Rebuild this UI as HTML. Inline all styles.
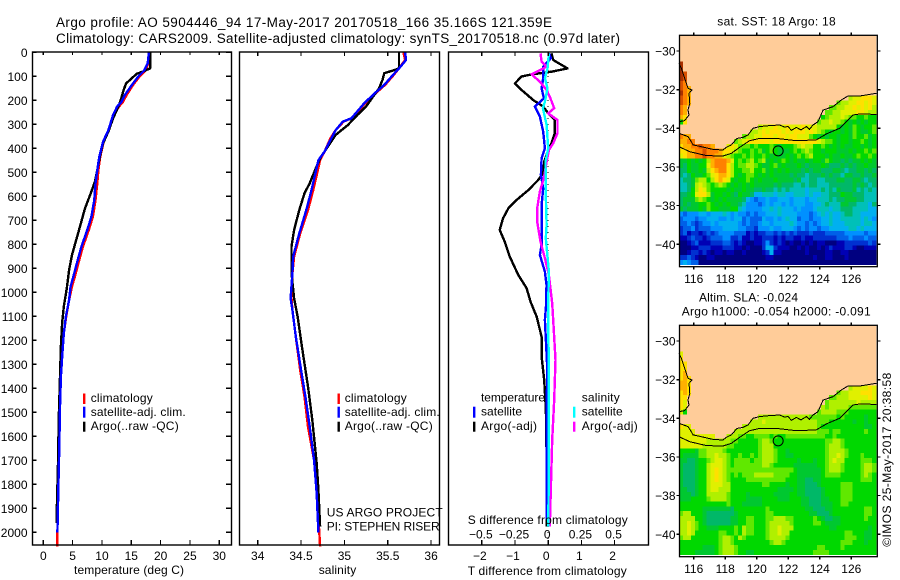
<!DOCTYPE html>
<html>
<head>
<meta charset="utf-8">
<title>Argo profile</title>
<style>
html,body{margin:0;padding:0;background:#fff;}
svg{display:block;}
text{font-family:"Liberation Sans",Arial,sans-serif;fill:#000;}
</style>
</head>
<body>
<svg id="chart" xmlns="http://www.w3.org/2000/svg" width="900" height="580" viewBox="0 0 900 580">
<rect x="0" y="0" width="900" height="580" fill="#fff"/>
<text x="56" y="27" font-size="13.5" textLength="496">Argo profile: AO 5904446_94 17-May-2017 20170518_166 35.166S 121.359E</text>
<text x="56" y="43" font-size="13.5" textLength="564">Climatology: CARS2009. Satellite-adjusted climatology: synTS_20170518.nc (0.97d later)</text>
<g id="maps"></g>
<g id="panels"></g>

<g id="labels" font-size="12">
<text x="74" y="574" textLength="110">temperature (deg C)</text>
<text x="318.7" y="574" textLength="37.5">salinity</text>
<text x="467.7" y="524" textLength="160">S difference from climatology</text>
<text x="467.7" y="575" textLength="159">T difference from climatology</text>

<rect x="83" y="393.5" width="2.4" height="10.5" fill="#f00"/>
<rect x="83" y="406.7" width="2.4" height="11" fill="#00f"/>
<rect x="83" y="421.7" width="2.4" height="10" fill="#000"/>
<text x="90.7" y="402" textLength="62">climatology</text>
<text x="90.7" y="416" textLength="95">satellite-adj. clim.</text>
<text x="90.7" y="430" textLength="88">Argo(..raw -QC)</text>

<rect x="337.5" y="393.5" width="2.4" height="10.5" fill="#f00"/>
<rect x="337.5" y="406.7" width="2.4" height="11" fill="#00f"/>
<rect x="337.5" y="421.7" width="2.4" height="10" fill="#000"/>
<text x="344.7" y="402" textLength="62">climatology</text>
<text x="344.7" y="416" textLength="95">satellite-adj. clim.</text>
<text x="344.7" y="430" textLength="88">Argo(..raw -QC)</text>
<text x="326.7" y="516.7" textLength="116">US ARGO PROJECT</text>
<text x="326.7" y="530.7" textLength="113">PI: STEPHEN RISER</text>

<text x="481" y="401.7" textLength="64">temperature</text>
<rect x="473" y="406.7" width="2.4" height="11" fill="#00f"/>
<rect x="473" y="421.7" width="2.4" height="10" fill="#000"/>
<text x="481" y="415.7" textLength="41">satellite</text>
<text x="481" y="430" textLength="56">Argo(-adj)</text>
<text x="581.7" y="401.7" textLength="38">salinity</text>
<rect x="573" y="406.7" width="2.4" height="11" fill="#0ff"/>
<rect x="573" y="421.7" width="2.4" height="10" fill="#f0f"/>
<text x="581.7" y="415.7" textLength="41">satellite</text>
<text x="581.7" y="430" textLength="56">Argo(-adj)</text>

<text x="717.3" y="25.7" textLength="118.4">sat. SST: 18 Argo: 18</text>
<text x="699" y="301.7" textLength="99">Altim. SLA: -0.024</text>
<text x="681.7" y="315.7" textLength="189">Argo h1000: -0.054 h2000: -0.091</text>
<text transform="translate(891,546.7) rotate(-90)" x="0" y="0" textLength="174">©IMOS 25-May-2017 20:38:58</text>
</g>
</svg>
<script>
// ---------- profile panel tick data ----------
const depthTicks = [0,100,200,300,400,500,600,700,800,900,1000,1100,1200,1300,1400,1500,1600,1700,1800,1900,2000];
const tempTicks = [0,5,10,15,20,25,30];
const salTicks = [34,34.5,35,35.5,36];
const salTickLabels = ['34','34.5','35','35.5','36'];
const diffTicks = [-2,-1,0,1,2];
const diffTickLabels = ['\u22122','\u22121','0','1','2'];
const sdiffTicks = [-0.5,-0.25,0,0.25,0.5];
const sdiffTickLabels = ['\u22120.5','\u22120.25','0','0.25','0.5'];

// ---------- temperature profile (deg C vs depth) ----------
const tempClimDepth = [0,46,76,101,136,178,206,226,261,324,372,435,490,546,615,685,740,810,872,928,976,1032,1101,1171,1254,1351,1476,1643,1824,2000,2060];
const tempClimValue = [18.0,17.9,17.4,16.4,15.3,14.2,13.6,12.9,12.0,11.1,10.3,9.7,9.4,9.2,8.9,8.45,7.75,6.75,6.05,5.45,4.9,4.4,3.9,3.5,3.25,3.0,2.85,2.73,2.56,2.4,2.4];
const tempArgoDepth = [0,67,80,90,108,130,164,199,226,275,330,379,428,490,539,587,650,726,782,844,907,983,1060,1129,1226,1351,1518,1712,1907,1962];
const tempArgoValue = [18.2,18.2,17.0,15.9,15.1,14.1,13.6,13.2,12.8,11.9,11.1,10.2,9.7,9.2,8.8,8.1,7.1,6.25,5.6,4.9,4.4,4.0,3.5,3.2,3.0,2.85,2.65,2.5,2.3,2.3];
const tempSatDepth = [0,46,76,101,136,178,206,226,261,324,372,435,490,546,615,685,740,810,872,928,976,1032,1101,1171,1254,1351,1476,1643,1824,2000];
const tempSatValue = [18.0,17.8,17.2,16.2,15.1,13.9,13.35,12.6,11.9,11.1,10.2,9.55,9.2,8.9,8.7,8.2,7.5,6.5,5.8,5.2,4.66,4.4,3.86,3.5,3.25,3.0,2.85,2.73,2.56,2.4];

// ---------- salinity profile ----------
const salClimDepth = [0,32,67,94,136,171,212,254,275,289,324,358,414,449,497,574,657,754,851,921,1025,1073,1185,1324,1435,1560,1700,1838,2000,2060];
const salClimValue = [35.68,35.70,35.63,35.57,35.47,35.36,35.24,35.14,35.08,34.99,34.9,34.84,34.77,34.72,34.69,34.64,34.58,34.49,34.42,34.40,34.39,34.40,34.44,34.49,34.54,34.58,34.65,34.68,34.71,34.72];
const salArgoDepth = [0,67,76,87,115,150,185,226,261,303,344,393,435,483,546,587,657,740,810,921,1025,1101,1226,1393,1532,1712,1824,1976];
const salArgoValue = [35.63,35.63,35.56,35.46,35.44,35.40,35.33,35.25,35.15,35.04,34.9,34.81,34.73,34.67,34.6,34.54,34.48,34.42,34.39,34.39,34.42,34.46,34.51,34.58,34.63,34.68,34.70,34.72];
const salSatDepth = [0,32,67,94,136,171,212,254,275,289,324,358,414,449,497,574,657,754,851,921,1025,1073,1185,1324,1435,1560,1700,1838,2000];
const salSatValue = [35.7,35.71,35.63,35.56,35.46,35.35,35.23,35.13,35.08,34.98,34.9,34.85,34.77,34.70,34.67,34.62,34.56,34.48,34.41,34.40,34.38,34.40,34.44,34.5,34.55,34.6,34.65,34.68,34.70];

// ---------- differences from climatology ----------
const dtArgoDepth = [4,32,67,81,92,101,129,157,199,226,254,282,337,379,407,456,504,532,574,615,650,692,740,789,851,928,983,1040,1101,1185,1268,1365,1490,1657,1976];
const dtArgoValue = [0.10,0.15,0.58,0.10,-0.50,-0.80,-1.0,-0.80,-0.45,-0.15,0,0.2,0.2,0.1,0,-0.12,-0.15,-0.30,-0.6,-0.95,-1.2,-1.36,-1.46,-1.31,-1.16,-0.90,-0.65,-0.53,-0.35,-0.2,-0.2,-0.12,-0.07,-0.05,-0.05];
const dtSatDepth = [4,25,60,108,150,192,226,268,331,400,442,511,567,636,719,803,844,914,969,1046,1115,1310,1587,1949];
const dtSatValue = [0.02,0.08,-0.15,-0.15,-0.2,-0.13,-0.40,-0.25,-0.15,-0.1,-0.2,-0.22,-0.15,-0.2,-0.2,-0.2,-0.25,-0.1,-0.05,-0.06,-0.1,-0.03,-0.05,-0.05];
const dsArgoDepth = [4,39,60,92,122,157,185,233,254,282,337,379,407,456,525,581,650,706,789,858,928,1046,1115,1282,1448,1615,1810,1976];
const dsArgoValue = [-0.058,-0.05,-0.012,-0.125,-0.063,-0.012,0.012,0.045,0,0.07,0.07,0.038,0.005,-0.012,-0.033,-0.063,-0.083,-0.083,-0.058,-0.025,0.005,0.03,0.038,0.055,0.045,0.03,0.02,0.012];
const dsSatDepth = [4,67,108,150,206,233,303,400,456,594,719,775,914,1046,1171,1282,1476,1726,1976];
const dsSatValue = [0.005,-0.005,-0.025,-0.005,-0.025,-0.04,-0.012,0,-0.02,-0.018,-0.012,-0.018,0.005,0,0,0.005,0.005,0.005,0];

// ---------- map data ----------
const lonTicks = [116,118,120,122,124,126];
const latTicks = [30,32,34,36,38,40];
const mapFirstRow = 5;
// each character is one 0.25 deg grid cell coded into colourLevels; '.' is land
const sstRows = [
"h","h","hg","hg","gf","gfe","hfe",
"gfe....... .......... .......... .......... ...bccdddc",
"gfe....... .......... .......... .......... abbccddcdc",
"fe........ .......... .......... ........aa bbccdcdcdb",
"fe........ .......... .......... .......aab bccccddcbb",
"ed........ .......... .......... ......9abb bcbaa99a99",
"9d........ .......... .......... .....abbcb ba98989899",
".......... .......... bcccdccdcc cdcccbbbbb 9898a9899a",
".......... ........bb cdcdddcdcd ddcdcba989 9898a9889a",
"fee....... ......abbc cdddcddcdd ccca989899 8998a99a89",
"eeff...... ....abcddd dddcdddddd dddddcbaa9 899899a989",
"deeffgffe. ..cdcaaa9a 999a98999a bcbb99a989 8988998989",
"ddeeffgfff eddcba99a9 a89a98889a 9aba998999 8889899a9a",
"cdeeffgffe ecba99a9a9 9a98988989 a9ab999898 89889a99a9",
"8898989bef ffec9a9ab9 ab8989a989 8898998a98 8787889898",
"8798899cef ffdb9aabba 9889a89888 9878889877 7878788988",
"7798898bde ffdb99aab9 9a89898988 8787887778 8767788787",
"7679889acd eedb989aa9 8989888878 7767778787 7688778778",
"6778abb9bd edc9899a98 9888988887 8667766777 8877887677",
"6678bcba9a ba98989898 8888787776 6767766677 7777878767",
"6679bdca99 9989889887 7877676766 6656667676 8777867676",
"7789cddb89 9898798875 5666566556 6656556677 7988777666",
"7888aba989 8988887543 4454455545 5545566676 7788877666",
"7878899a98 9898876444 3454554545 5544556766 6887766657",
"8788898a99 8889965444 4556565554 5444566656 6777666655",
"4344455455 5654544343 4455565555 4443456565 5677665555",
"3444344555 4454553433 3544545655 3443445565 5666665654",
"3343234454 5555543433 4554555565 4434345565 5566665665",
"2334233344 4555544332 4445445554 3434434455 5556656555",
"2312212323 4444333121 2233232323 2223222333 3344444344",
"1123221233 3442231121 1222121221 1211222222 3334333433",
"0012311122 2332121001 1242121010 0101011000 1122222232",
"0001122211 1222110100 0255211100 1010010121 1122100111",
"0012212101 1011001000 0125110000 0010000110 0110000000",
"2232100110 0000000000 0011000000 0000100110 0010000000",
"4543300000 0000000000 0000000000 0000000000 0000000000"
];
const slaRows = [
"c","d","dd","dd","de","ded","eed",
"eed....... .......... .......... .......... ...bccccdc",
"ded....... .......... .......... .......... abbcccdddc",
"dd........ .......... .......... ........aa bbbcccccdc",
"dc........ .......... .......... .......abb bbbbbcbbbb",
"dc........ .......... .......... ......babb bbbaaaaaaa",
"c9........ .......... .......... .....abbbb aaa9999999",
".......... .......... bbbbbbbbbb bbbaaaaaaa 9a99999899",
".......... ........bb bcbbbbbbbb bbbbbaaa99 9999899899",
"dcc....... ......bbbb bbbbbbbbbb bbbbba9999 9999999889",
"cccc...... ....bbbbbb bbbbbbbbbb bbbbbaaa9a a999999a99",
"ccccccccc. ..bbbaa99a aaa9a99aaa aaaaaaa99a 9999999999",
"cccccccbbb bbbaa99999 abba999999 9999999aab ba99999999",
"ccccccbbbb bbaa999999 abbb999999 9999999abb ba99999999",
"99998aabbb ba99999999 abbba99899 9999999abb bba9999999",
"98888aabbc bba99a99a9 abbba99889 9999999abb cba999a999",
"8877899abc cba9aaaa9a abbba99999 8999899abc bb9999aaa9",
"8777899bcc cba9aaaaaa abba999998 8888899abb ba9999abba",
"8777899bcd cbaaaaaaaa aaaaaaaaa9 8888889abb ba9999abba",
"8777899bcd cba9a9aaab bbbbaaaa99 8888889aaa a99999aba9",
"8777899bcd cba9999aaa aaaaaaa999 8877889999 999999aaa9",
"8777899bcc cbb9999999 9aa9999899 8877789999 9aaa999999",
"8877899bcc bbb9999999 9999988889 8877778999 9aaa999999",
"8887899bbb bba9999899 9999888899 8877778999 9aaa999999",
"8889999abb bba9999888 8999988899 9887778899 9aaa999999",
"9999999999 99a9998888 8999999999 9887778889 9aa9999999",
"9999998888 8887999999 99a9999999 9988777889 9999999aa9",
"abb9998777 7777899999 99aa999999 9998877789 9999999aa9",
"bbbb998777 7778899aa9 99aabbbaa9 9999a98778 8999999a99",
"bbcba98777 7778899aa9 99abbbbba9 9999aa9888 8999999999",
"bbcba99888 9999a9baa9 99abbcbbb9 9999999988 9999999989",
"bbcb999999 aa99a9baa9 99abbcbb99 9999999999 99aa999889",
"abb9999999 abba9ba999 99abbbba99 9999999999 99aaa99889",
"9999999999 abba999999 999abba999 9999999999 9aaa999899",
"9999998889 abbba99999 9999999999 99999aa999 9a99999999",
"9999888889 abbba99889 9999999999 9999aaaa99 9999999999"
];
const colourLevels = {'0':'#000080','1':'#0000b4','2':'#0030d0','3':'#0060e8','4':'#0090ff','5':'#00b0f0','6':'#00c0b8','7':'#00b868','8':'#00c830','9':'#00d800','a':'#60e800','b':'#b0f000','c':'#e0f000','d':'#ffe000','e':'#ffb000','f':'#ff8000','g':'#d85000','h':'#a83000'};
const westCoastLon = [115.07,115.22,115.43,115.64,115.89,115.70,115.75,115.64,115.70,115.43,115.07];
const westCoastLat = [30.64,30.90,31.41,31.93,32.02,32.19,32.71,33.05,33.31,33.60,33.66];
const southCoastLon = [115.07,115.64,115.85,115.96,116.49,117.23,117.86,118.07,118.39,118.75,119.13,119.45,119.77,120.19,120.82,121.46,121.75,121.99,122.2,122.52,122.8,123.15,123.35,123.57,123.89,124.21,124.84,125.37,125.79,126.53,127.59];
const southCoastLat = [34.26,34.43,34.69,34.86,34.95,35.09,35.12,34.98,34.86,34.52,34.47,34.34,34.0,33.91,33.86,33.83,33.93,33.91,34.1,33.95,34.08,33.91,34.05,33.83,33.66,33.05,32.88,32.53,32.33,32.33,32.19];
const shelfLon = [115.07,115.75,116.80,117.86,118.39,118.92,119.55,120.19,121.25,122.52,123.78,124.42,125.26,126.11,126.53,127.59];
const shelfLat = [34.95,35.21,35.41,35.43,35.29,34.98,34.64,34.52,34.52,34.64,34.60,34.29,34.0,33.31,33.26,33.28];
const profileLon = 121.359;
const profileLat = 35.166;

// ---------- helpers ----------
const NS = 'http://www.w3.org/2000/svg';
function mk(parent, tag, attrs, txt) {
  const e = document.createElementNS(NS, tag);
  for (const k in attrs) e.setAttribute(k, attrs[k]);
  if (txt !== undefined) e.textContent = txt;
  parent.appendChild(e);
  return e;
}
const depthY = d => 52.3 + d * 0.24;
const tempX = v => 43.3 + v * 5.867;
const salX = v => 257.7 + (v - 34) * 86.7;
const diffX = v => 548.2 + v * 33.2;
const sdiffX = v => 548.2 + v * 132.8;
const PANEL_TOP = 52, PANEL_BOTTOM = 545;

function tickLine(g, x1, y1, x2, y2) {
  const t = mk(g, 'line', {x1: x1, y1: y1, x2: x2, y2: y2, stroke: '#000', 'stroke-width': 1.2, 'shape-rendering': 'crispEdges'});
  
  
}
function tickText(g, x, y, s, anchor) {
  const t = mk(g, 'text', {x: x, y: y, 'font-size': 12, 'text-anchor': anchor}, s);
  
  
}
function drawSeries(g, depths, values, scale, colour, name) {
  const pts = depths.map((d, i) => scale(values[i]).toFixed(1) + ',' + depthY(d).toFixed(1)).join(' ');
  const l = mk(g, 'polyline', {points: pts, fill: 'none', stroke: colour, 'stroke-width': 2.4, 'stroke-linejoin': 'round', 'shape-rendering': 'crispEdges'});
  
  
}
function panelFrame(g, x0, x1, name) {
  const r = mk(g, 'rect', {x: x0, y: PANEL_TOP, width: x1 - x0, height: PANEL_BOTTOM - PANEL_TOP, fill: 'none', stroke: '#000', 'stroke-width': 1.4});
  
  
}

// ---------- panels ----------
const panels = document.getElementById('panels');

const p1 = mk(panels, 'g', {});


drawSeries(p1, tempClimDepth, tempClimValue, tempX, '#f00', 'temperature-climatology-line');
drawSeries(p1, tempArgoDepth, tempArgoValue, tempX, '#000', 'temperature-argo-line');
drawSeries(p1, tempSatDepth, tempSatValue, tempX, '#00f', 'temperature-satellite-line');
panelFrame(p1, 32.5, 231.5, 'temperature-panel-frame');
depthTicks.forEach(d => {
  tickLine(p1, 32.5, depthY(d), 36.5, depthY(d));
  tickLine(p1, 226, depthY(d), 231.5, depthY(d));
  tickText(p1, 27.5, depthY(d) + 4.5, String(d), 'end');
});
tempTicks.forEach(v => {
  tickLine(p1, tempX(v), PANEL_TOP, tempX(v), PANEL_TOP + 3);
  tickLine(p1, tempX(v), PANEL_BOTTOM - 5, tempX(v), PANEL_BOTTOM);
  tickText(p1, tempX(v), 560, String(v), 'middle');
});

const p2 = mk(panels, 'g', {});


drawSeries(p2, salClimDepth, salClimValue, salX, '#f00', 'salinity-climatology-line');
drawSeries(p2, salArgoDepth, salArgoValue, salX, '#000', 'salinity-argo-line');
drawSeries(p2, salSatDepth, salSatValue, salX, '#00f', 'salinity-satellite-line');
panelFrame(p2, 239.5, 439.5, 'salinity-panel-frame');
salTicks.forEach((v, i) => {
  tickLine(p2, salX(v), PANEL_TOP, salX(v), PANEL_TOP + 4);
  tickLine(p2, salX(v), PANEL_BOTTOM - 5, salX(v), PANEL_BOTTOM);
  tickText(p2, salX(v), 560, salTickLabels[i], 'middle');
});

const p3 = mk(panels, 'g', {});


const zeroLine = mk(p3, 'line', {x1: diffX(0), y1: PANEL_TOP, x2: diffX(0), y2: PANEL_BOTTOM, stroke: '#000', 'stroke-width': 1, 'stroke-dasharray': '1 5', 'shape-rendering': 'crispEdges'});


drawSeries(p3, dtArgoDepth, dtArgoValue, diffX, '#000', 'temperature-diff-argo-line');
drawSeries(p3, dtSatDepth, dtSatValue, diffX, '#00f', 'temperature-diff-satellite-line');
drawSeries(p3, dsArgoDepth, dsArgoValue, sdiffX, '#f0f', 'salinity-diff-argo-line');
drawSeries(p3, dsSatDepth, dsSatValue, sdiffX, '#0ff', 'salinity-diff-satellite-line');
panelFrame(p3, 448.5, 648.5, 'difference-panel-frame');
diffTicks.forEach((v, i) => {
  tickLine(p3, diffX(v), PANEL_TOP, diffX(v), PANEL_TOP + 4);
  tickLine(p3, diffX(v), PANEL_BOTTOM - 5, diffX(v), PANEL_BOTTOM);
  tickText(p3, diffX(v) - 2, 560, diffTickLabels[i], 'middle');
});
sdiffTicks.forEach((v, i) => {
  tickText(p3, sdiffX(v) - 1, 538.7, sdiffTickLabels[i], 'middle');
});

// ---------- maps ----------
const lonX = l => 693.7 + (l - 116) * 15.76;
const MAP_LEFT = 679.5, MAP_RIGHT = 877.3;
function lineOnMap(g, lons, lats, latY, name) {
  const pts = lons.map((l, i) => lonX(l).toFixed(1) + ',' + latY(lats[i]).toFixed(1)).join(' ');
  const c = mk(g, 'polyline', {points: pts, fill: 'none', stroke: '#000', 'stroke-width': 1, 'shape-rendering': 'crispEdges'});
  
  
}
function drawMap(name, rows, lat30Y, top, bottom) {
  const latY = l => lat30Y + (l - 30) * 19.33;
  const g = mk(document.getElementById('maps'), 'g', {});
  
  
  const land = mk(g, 'rect', {x: MAP_LEFT, y: top, width: 196.8, height: latY(41.05) - top, fill: '#ffcc99'});
  
  
  rows.forEach((raw, ri) => {
    const row = raw.replace(/ /g, '');
    const la = 29.3 + 0.25 * (ri + mapFirstRow);
    for (let j = 0; j < row.length; j++) {
      const c = row[j];
      if (c === '.') continue;
      const lo = 115.07 + 0.25 * j;
      const cell = mk(g, 'rect', {x: lonX(lo).toFixed(2), y: latY(la).toFixed(2), width: 4.2, height: 5.1, fill: colourLevels[c], 'shape-rendering': 'crispEdges'});
      
      
    }
  });
  lineOnMap(g, westCoastLon, westCoastLat, latY, 'west-coastline');
  lineOnMap(g, southCoastLon, southCoastLat, latY, 'south-coastline');
  lineOnMap(g, shelfLon, shelfLat, latY, 'shelf-contour');
  const mark = mk(g, 'circle', {cx: lonX(profileLon), cy: latY(profileLat), r: 5, fill: 'none', stroke: '#000', 'stroke-width': 1});
  
  
  const frame = mk(g, 'rect', {x: MAP_LEFT, y: top, width: MAP_RIGHT - MAP_LEFT, height: bottom - top, fill: 'none', stroke: '#000', 'stroke-width': 1.3});
  
  
  lonTicks.forEach(v => {
    tickLine(g, lonX(v), top - 3, lonX(v), top);
    tickLine(g, lonX(v), bottom, lonX(v), bottom + 3);
    tickText(g, lonX(v), bottom + 16.5, String(v), 'middle');
  });
  latTicks.forEach(v => {
    tickLine(g, MAP_LEFT - 3, latY(v), MAP_LEFT, latY(v));
    tickLine(g, MAP_RIGHT, latY(v), MAP_RIGHT + 3, latY(v));
    tickText(g, 675.5, latY(v) + 4.5, '\u2212' + v, 'end');
  });
}
drawMap('sst-map', sstRows, 51, 35.3, 266.7);
drawMap('sla-map', slaRows, 341, 325.3, 556.7);
</script>
</body>
</html>
